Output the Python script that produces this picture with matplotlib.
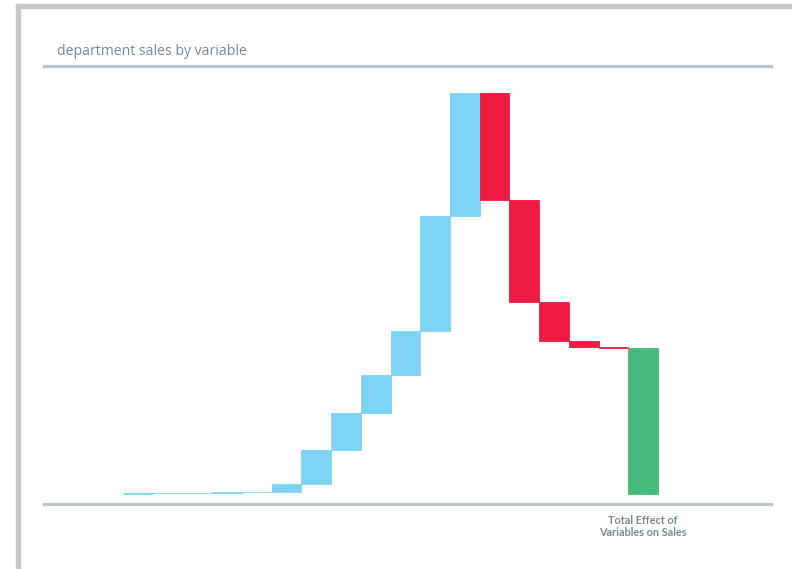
import numpy as np
import matplotlib.pyplot as plt
from matplotlib.patches import Rectangle

# so thay doi cua tung bien (don vi tuy y, doc tu hinh)
changes = [0.2, 0.2, 0.5, 0.5, 0.6, 7.5, 34, 37, 38, 44, 115, 123,
           -107, -102, -39, -6, -0.5]
total_label = 'Total Effect of\nVariables on Sales'
title = 'department sales by variable'

blue = '#7dd3f5'
red = '#ee1a42'
green = '#46bb7c'
line_col = '#b9c5cc'
text_col = '#7b8890'

changes = np.array(changes)
ends = np.cumsum(changes)
starts = ends - changes
total = ends[-1]

fig = plt.figure(figsize=(7.92, 5.69), dpi=100)
W, H = 792, 569

# khung xam o tren va ben trai
fig.patches.append(Rectangle((16 / W, 1 - 8 / H), 1 - 16 / W, 4 / H,
                             transform=fig.transFigure, color='#c8c8c8', zorder=0))
fig.patches.append(Rectangle((16 / W, 0), 4 / W, 1 - 4 / H,
                             transform=fig.transFigure, color='#c8c8c8', zorder=0))

ax = fig.add_axes([44 / W, 1 - 503.5 / H, (771 - 44) / W, (503.5 - 66) / H])

x = np.arange(len(changes))
cols = [blue if c > 0 else red for c in changes]
ax.bar(x, changes, bottom=starts, width=1.0, color=cols, edgecolor=cols,
       linewidth=0.6)
ax.bar(len(changes), total, bottom=0, width=1.0, color=green, edgecolor=green,
       linewidth=0.6)

ax.set_xlim(-3.158, 21.3)
ax.set_ylim(-10, 427.5)

for s in ['left', 'right']:
    ax.spines[s].set_visible(False)
for s in ['top', 'bottom']:
    ax.spines[s].set_color(line_col)
    ax.spines[s].set_linewidth(2.3)

ax.set_yticks([])
ax.set_xticks([len(changes)])
ax.set_xticklabels([total_label], fontsize=7.8, fontweight='bold', color=text_col,
                   family=['Lato', 'DejaVu Sans'], linespacing=1.2)
ax.tick_params(axis='x', length=0, pad=8)

fig.text(57 / W, 1 - 55 / H, title, fontsize=10.1, color=text_col,
         family=['Open Sans', 'DejaVu Sans'])

fig.savefig('out.png', dpi=100)
